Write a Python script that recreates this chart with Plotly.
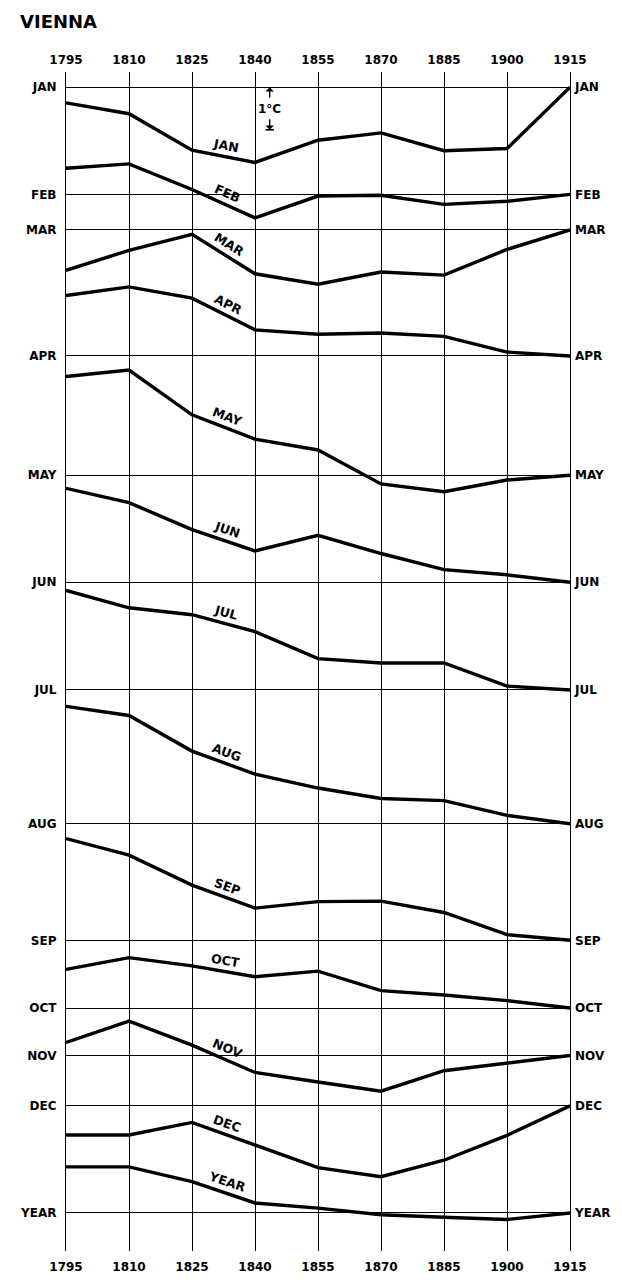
import math
import plotly.graph_objects as go

# ---------------- data ----------------
years = [1795, 1810, 1825, 1840, 1855, 1870, 1885, 1900, 1915]
year_labels = ["1795", "1810", "1825", "1840", "1855", "1870", "1885", "1900", "1915"]
months = ["JAN", "FEB", "MAR", "APR", "MAY", "JUN", "JUL", "AUG", "SEP", "OCT", "NOV", "DEC", "YEAR"]

# departures from the 1915 value (deg C, plotted upward)
jan = [-0.36, -0.61, -1.45, -1.73, -1.22, -1.05, -1.46, -1.41, 0.0]
feb = [0.60, 0.70, 0.11, -0.54, -0.04, -0.02, -0.23, -0.16, 0.0]
mar = [-0.93, -0.47, -0.10, -1.01, -1.25, -0.97, -1.04, -0.45, 0.0]
apr = [1.39, 1.59, 1.33, 0.60, 0.50, 0.53, 0.45, 0.09, 0.0]
may = [2.27, 2.42, 1.39, 0.83, 0.58, -0.20, -0.38, -0.11, 0.0]
jun = [2.16, 1.83, 1.21, 0.72, 1.08, 0.66, 0.29, 0.17, 0.0]
jul = [2.29, 1.89, 1.73, 1.34, 0.72, 0.62, 0.62, 0.09, 0.0]
aug = [2.70, 2.49, 1.67, 1.14, 0.82, 0.58, 0.53, 0.19, 0.0]
sep = [2.34, 1.96, 1.27, 0.74, 0.89, 0.90, 0.64, 0.13, 0.0]
octo = [0.89, 1.16, 0.97, 0.72, 0.85, 0.40, 0.30, 0.17, 0.0]
nov = [0.30, 0.79, 0.24, -0.39, -0.61, -0.82, -0.35, -0.18, 0.0]
dec = [-0.67, -0.67, -0.38, -0.91, -1.42, -1.63, -1.25, -0.68, 0.0]
annual = [1.06, 1.06, 0.72, 0.23, 0.11, -0.04, -0.10, -0.15, 0.0]

series = [jan, feb, mar, apr, may, jun, jul, aug, sep, octo, nov, dec, annual]

# ---------------- layout constants ----------------
# vertical position of each month's reference line (in deg C units below JAN line)
row_offsets = [0.0, 2.464, 3.282, 6.182, 8.925, 11.386, 13.864, 16.941,
               19.623, 21.182, 22.273, 23.432, 25.895]

PAGE_MARGIN = 8  # default body margin of the html page
W, H = 622 - PAGE_MARGIN, 1286 - PAGE_MARGIN
L, R, T, B = 60 - PAGE_MARGIN, 46, 72 - PAGE_MARGIN, 21
y_top, y_bot = 0.35, -26.77
x0, x1 = 1795, 1915
px_per_year = (W - L - R) / (x1 - x0)
px_per_deg = (H - T - B) / (y_top - y_bot)

FONT = "DejaVu Sans"
fig = go.Figure()

baselines = [-o for o in row_offsets]

for name, vals, base in zip(months, series, baselines):
    fig.add_trace(go.Scatter(
        x=years, y=[base + v for v in vals], mode="lines",
        line=dict(color="black", width=3.4), name=name, showlegend=False,
        hoverinfo="skip"))

# right-hand / top duplicate axes (ticks only)
fig.add_trace(go.Scatter(x=[x0], y=[y_top], xaxis="x2", yaxis="y2",
                         mode="markers", marker=dict(opacity=0), showlegend=False,
                         hoverinfo="skip"))

# curve labels along the 1825-1840 segment
for name, vals, base in zip(months, series, baselines):
    i = 2
    xm = (years[i] + years[i + 1]) / 2
    ym = base + (vals[i] + vals[i + 1]) / 2
    dx = (years[i + 1] - years[i]) * px_per_year
    dy = -(vals[i + 1] - vals[i]) * px_per_deg
    th = math.atan2(dy, dx)
    off = 11
    fig.add_annotation(x=xm, y=ym, text="<b>%s</b>" % name, showarrow=False,
                       textangle=math.degrees(th),
                       xshift=off * math.sin(th), yshift=off * math.cos(th),
                       font=dict(family=FONT, size=12.5, color="black"))

# 1 deg C scale
xs = 1843.5
fig.add_annotation(x=xs, y=0, ax=0, ay=12, text="", showarrow=True,
                   arrowhead=1, arrowsize=1, arrowwidth=1.4, arrowcolor="black",
                   standoff=0)
fig.add_annotation(x=xs, y=-0.98, ax=0, ay=-12, text="", showarrow=True,
                   arrowhead=1, arrowsize=1, arrowwidth=1.4, arrowcolor="black",
                   standoff=0)
fig.add_shape(type="line", x0=xs - 1.0, x1=xs + 1.0, y0=-0.98, y1=-0.98,
              line=dict(color="black", width=1.6))
fig.add_annotation(x=xs, y=-0.49, text="<b>1°C</b>", showarrow=False,
                   font=dict(family=FONT, size=12, color="black"))

axis_font = dict(family=FONT, size=12, color="black", weight="bold")
fig.update_layout(
    width=W, height=H,
    margin=dict(l=L, r=R, t=T, b=B, pad=0),
    paper_bgcolor="white", plot_bgcolor="white",
    title=dict(text="<b>VIENNA</b>", x=(20 - PAGE_MARGIN) / W, xanchor="left",
               y=1 - (22 - PAGE_MARGIN) / H,
               yanchor="middle", font=dict(family=FONT, size=18, color="black")),
    xaxis=dict(range=[x0, x1], tickvals=years, ticktext=year_labels,
               showgrid=True, gridcolor="black", gridwidth=1.2,
               zeroline=False, showline=False, ticks="", tickfont=axis_font,
               ticklabelstandoff=7),
    xaxis2=dict(range=[x0, x1], tickvals=years, ticktext=year_labels,
                overlaying="x", side="top", showgrid=False, zeroline=False,
                showline=False, ticks="", tickfont=axis_font,
                ticklabelstandoff=5),
    yaxis=dict(range=[y_bot, y_top], tickvals=baselines, ticktext=months,
               showgrid=True, gridcolor="black", gridwidth=1.2,
               zeroline=False, showline=True, linecolor="black", linewidth=1.2,
               mirror=True, ticks="", tickfont=axis_font, ticklabelstandoff=6),
    yaxis2=dict(range=[y_bot, y_top], tickvals=baselines, ticktext=months,
                overlaying="y", side="right", showgrid=False, zeroline=False,
                showline=False, ticks="", tickfont=axis_font,
                ticklabelstandoff=4),
)

fig.write_html("out.html")
